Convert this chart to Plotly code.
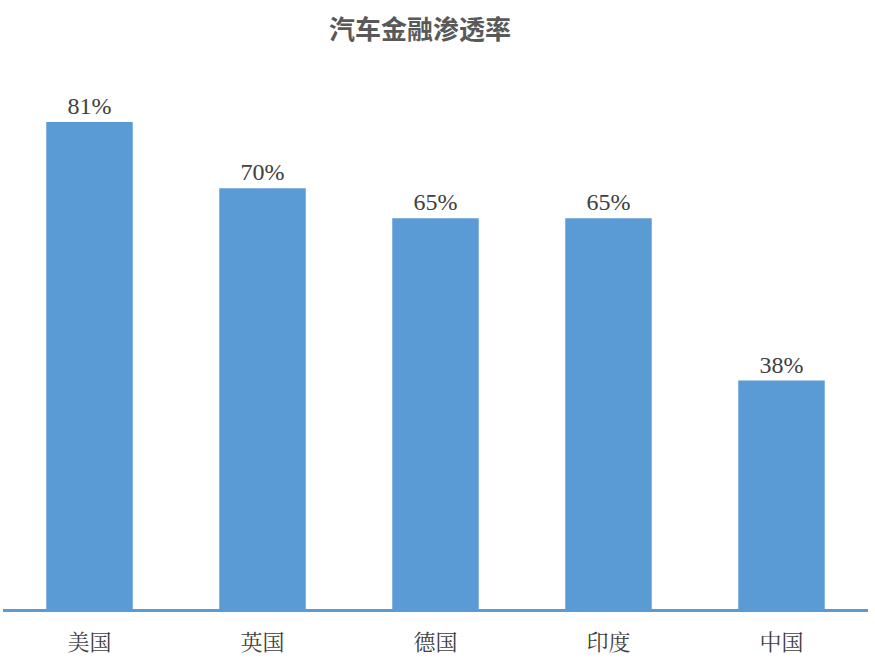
import plotly.graph_objects as go

categories = ["美国", "英国", "德国", "印度", "中国"]
values = [81, 70, 65, 65, 38]
labels = ["81%", "70%", "65%", "65%", "38%"]

fig = go.Figure(go.Bar(
    x=categories, y=values, text=labels, textposition="outside",
    textfont=dict(family="Liberation Serif", size=24, color="#404040"),
    marker=dict(color="#5B9BD5", line=dict(width=0)),
    width=0.5, cliponaxis=False,
))

fig.update_layout(
    width=875, height=661,
    margin=dict(l=3, r=7, t=68, b=52),
    paper_bgcolor="white", plot_bgcolor="white",
    title=dict(text="<b>汽车金融渗透率</b>", x=0.48, xanchor="center", y=0.955, yanchor="middle",
               font=dict(family="Noto Sans CJK SC", size=26, color="#595959")),
    showlegend=False,
    xaxis=dict(showline=True, linecolor="#5B9BD5", linewidth=3, showgrid=False,
               ticks="outside", ticklen=12, tickcolor="rgba(0,0,0,0)",
               tickfont=dict(family="Noto Serif CJK SC, Noto Sans CJK SC", size=22, color="#404040"),
               range=[-0.5, 4.5]),
    yaxis=dict(visible=False, range=[0, 90]),
)

fig.write_html("out.html", config={"displayModeBar": False},
               post_script="document.body.style.margin='0';")
